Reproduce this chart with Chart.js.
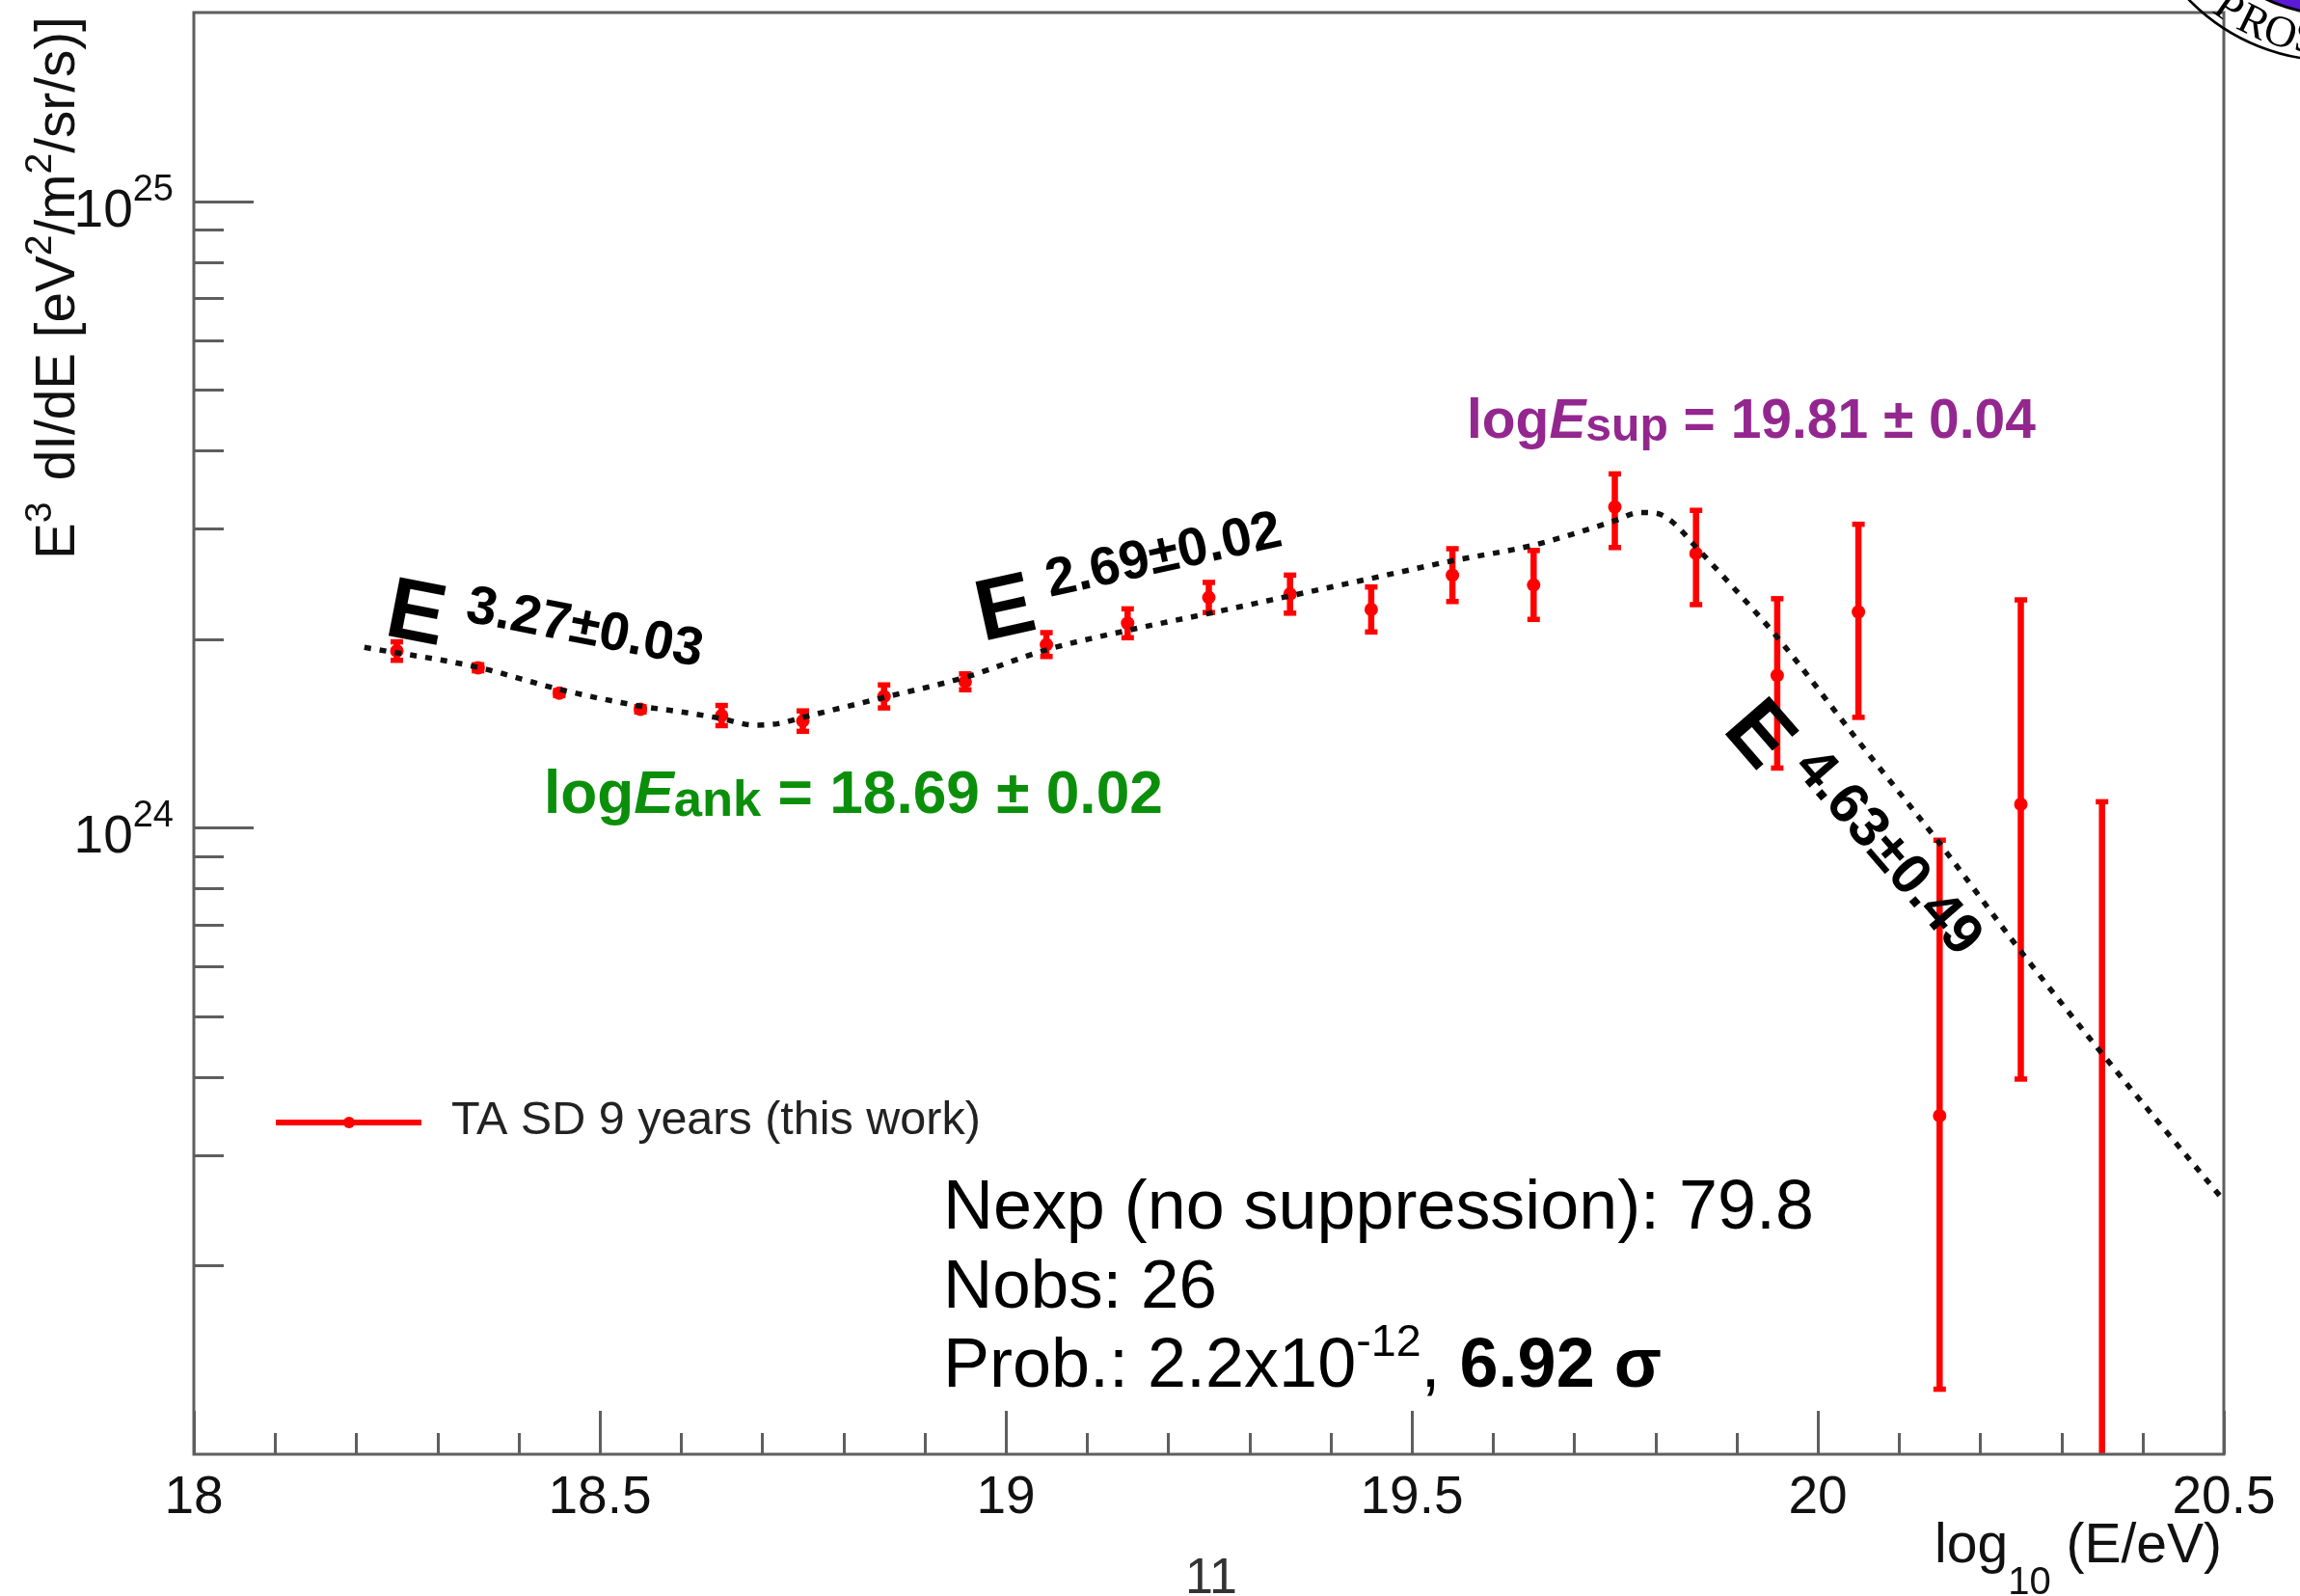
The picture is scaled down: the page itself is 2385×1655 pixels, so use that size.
<!DOCTYPE html>
<html><head><meta charset="utf-8">
<script src="https://cdn.jsdelivr.net/npm/chart.js@4.4.1/dist/chart.umd.min.js"></script>
<style>html,body{margin:0;padding:0;background:#fff;}canvas{display:block;}</style>
</head><body>
<canvas id="c" width="2385" height="1655" style="width:2385px;height:1655px"></canvas>
<script>
// ---------------- data ----------------
const logE = [18.25,18.35,18.45,18.55,18.65,18.75,18.85,18.95,19.05,19.15,19.25,19.35,19.45,19.55,19.65,19.75,19.85,19.95,20.05,20.15,20.25,20.35];
const flux = [1.915e24,1.80e24,1.64e24,1.545e24,1.51e24,1.48e24,1.62e24,1.71e24,1.96e24,2.12e24,2.33e24,2.36e24,2.23e24,2.53e24,2.44e24,3.25e24,2.74e24,1.75e24,2.21e24,3.47e23,1.09e24,null];
const fluxLow = [1.85e24,1.78e24,1.625e24,1.53e24,1.455e24,1.425e24,1.553e24,1.66e24,1.876e24,2.01e24,2.205e24,2.20e24,2.053e24,2.296e24,2.15e24,2.80e24,2.27e24,1.245e24,1.50e24,1.27e23,3.97e23,1.0e23];
const fluxHigh = [1.98e24,1.82e24,1.655e24,1.56e24,1.567e24,1.536e24,1.69e24,1.76e24,2.048e24,2.235e24,2.463e24,2.53e24,2.422e24,2.788e24,2.77e24,3.67e24,3.21e24,2.32e24,3.05e24,9.55e23,2.31e24,1.10e24];
const fitLogE = [18.21,18.35,18.45,18.55,18.6,18.65,18.69,18.72,18.75,18.85,18.95,19.05,19.15,19.25,19.35,19.45,19.55,19.65,19.75,19.78,19.80,19.82,19.85,19.89,19.95,20.05,20.15,20.25,20.35,20.5];
const fitFlux = [1.94e24,1.803e24,1.663e24,1.563e24,1.531e24,1.493e24,1.458e24,1.466e24,1.500e24,1.614e24,1.738e24,1.923e24,2.065e24,2.198e24,2.344e24,2.500e24,2.667e24,2.825e24,3.090e24,3.184e24,3.177e24,3.083e24,2.805e24,2.466e24,2.014e24,1.374e24,9.44e23,6.35e23,4.36e23,2.54e23];
const xTicks = [18,18.5,19,19.5,20,20.5];
const xTickLabels = ['18','18.5','19','19.5','20','20.5'];
const yTickValues = [1e24,1e25];
const yTickExp = ['24','25'];
const seriesLabel = 'TA SD 9 years (this work)';

// ---------------- styling ----------------
const FONT = "'Liberation Sans', Arial, Helvetica, sans-serif";
const RED = '#ff0000';
const AXIS = '#5e5e5e';

function font(p, s) {
  return (p.style || 'normal') + ' ' + (p.weight || 'normal') + ' ' + (p.size * s) + 'px ' + (p.family || FONT);
}
function richWidth(ctx, parts, s) {
  let w = 0;
  for (const p of parts) { ctx.font = font(p, s); w += ctx.measureText(p.t).width + (p.gap || 0) * s; }
  return w;
}
function drawRich(ctx, x, y, parts, s, color) {
  let cx = x;
  ctx.textBaseline = 'alphabetic';
  ctx.textAlign = 'left';
  for (const p of parts) {
    ctx.font = font(p, s);
    ctx.fillStyle = p.color || color;
    ctx.fillText(p.t, cx, y + (p.dy || 0) * s);
    cx += ctx.measureText(p.t).width + (p.gap || 0) * s;
  }
  return cx - x;
}
function fitScale(ctx, parts, target) { return target / richWidth(ctx, parts, 1); }

function drawAnno(ctx, x, y, deg, eSize, sup, supSize, supX, supY) {
  ctx.save();
  ctx.translate(x, y);
  ctx.rotate(deg * Math.PI / 180);
  ctx.fillStyle = '#000';
  ctx.textBaseline = 'alphabetic';
  ctx.textAlign = 'left';
  ctx.font = 'bold ' + eSize + 'px ' + FONT;
  ctx.fillText('E', 0, 0);
  ctx.font = 'bold ' + supSize + 'px ' + FONT;
  ctx.fillText(sup, supX, supY);
  ctx.restore();
}

const decor = {
  id: 'decor',
  afterDraw(chart) {
    const ctx = chart.ctx, a = chart.chartArea, xs = chart.scales.x, ys = chart.scales.y;
    ctx.save();
    // ticks (inside the frame)
    ctx.strokeStyle = AXIS; ctx.lineWidth = 3; ctx.lineCap = 'butt';
    for (let i = 0; i <= 25; i++) {
      const v = 18 + i * 0.1;
      const px = Math.round(xs.getPixelForValue(v)) + 0.5;
      const len = (i % 5 === 0) ? 45 : 22;
      ctx.beginPath(); ctx.moveTo(px, a.bottom); ctx.lineTo(px, a.bottom - len); ctx.stroke();
    }
    for (let d = 23; d <= 25; d++) {
      for (let m = 1; m <= 9; m++) {
        const v = m * Math.pow(10, d);
        if (v <= ys.min * 1.0001 || v >= ys.max * 0.9999) continue;
        const py = Math.round(ys.getPixelForValue(v)) + 0.5;
        const len = (m === 1) ? 62 : 31;
        ctx.beginPath(); ctx.moveTo(a.left, py); ctx.lineTo(a.left + len, py); ctx.stroke();
      }
    }
    // frame
    ctx.strokeStyle = AXIS; ctx.lineWidth = 3;
    ctx.strokeRect(a.left, a.top, a.right - a.left, a.bottom - a.top);

    // y tick labels 10^n
    for (let i = 0; i < yTickValues.length; i++) {
      const py = ys.getPixelForValue(yTickValues[i]);
      const parts = [{t: '10', size: 55}, {t: yTickExp[i], size: 38, dy: -27}];
      const w = richWidth(ctx, parts, 1);
      drawRich(ctx, 180 - w, py + 26, parts, 1, '#111');
    }

    // y axis title (rotated)
    {
      const parts = [{t: 'E', size: 52}, {t: '3', size: 36, dy: -22, gap: 6}, {t: ' dI/dE [eV', size: 52},
        {t: '2', size: 36, dy: -22}, {t: '/m', size: 52}, {t: '2', size: 36, dy: -22}, {t: '/sr/s)]', size: 52}];
      const s = fitScale(ctx, parts, 563);
      ctx.save(); ctx.translate(77, 580); ctx.rotate(-Math.PI / 2);
      drawRich(ctx, 0, 0, parts, s, '#111');
      ctx.restore();
    }
    // x axis title
    {
      const parts = [{t: 'log', size: 57}, {t: '10', size: 40, dy: 33}, {t: ' (E/eV)', size: 57}];
      const w = richWidth(ctx, parts, 1);
      drawRich(ctx, 2304 - w, 1620, parts, 1, '#111');
    }
    // page number
    ctx.font = '52px ' + FONT; ctx.fillStyle = '#333'; ctx.textAlign = 'left'; ctx.textBaseline = 'alphabetic';
    ctx.fillText('11', 1229, 1652);

    // legend
    ctx.strokeStyle = RED; ctx.lineWidth = 6;
    ctx.beginPath(); ctx.moveTo(286, 1164); ctx.lineTo(437, 1164); ctx.stroke();
    ctx.fillStyle = RED; ctx.beginPath(); ctx.arc(362, 1164, 6, 0, 2 * Math.PI); ctx.fill();
    {
      const parts = [{t: seriesLabel, size: 48}];
      drawRich(ctx, 468, 1176, parts, fitScale(ctx, parts, 549), '#222');
    }

    // green / purple annotations
    {
      const g = [{t: 'log', size: 64, weight: 'bold'}, {t: 'E', size: 64, weight: 'bold', style: 'italic'},
        {t: 'ank', size: 54, weight: 'bold', dy: 3}, {t: ' = 18.69 \u00b1 0.02', size: 64, weight: 'bold'}];
      drawRich(ctx, 564, 843, g, fitScale(ctx, g, 642), '#0b8f0b');
      const p = [{t: 'log', size: 64, weight: 'bold'}, {t: 'E', size: 64, weight: 'bold', style: 'italic'},
        {t: 'sup', size: 54, weight: 'bold', dy: 3}, {t: ' = 19.81 \u00b1 0.04', size: 64, weight: 'bold'}];
      drawRich(ctx, 1521, 454, p, fitScale(ctx, p, 590), '#93278f');
    }

    // spectral index labels
    drawAnno(ctx, 397, 658, 11, 90, '3.27\u00b10.03', 56, 80, -30);
    drawAnno(ctx, 1019, 665, -12.4, 90, '2.69\u00b10.02', 56, 78, -30);
    drawAnno(ctx, 1785, 757, 49, 88, '4.63\u00b10.49', 59, 78, -30);

    // statistics text block
    {
      const l1 = [{t: 'Nexp (no suppression): 79.8', size: 71}];
      drawRich(ctx, 978, 1274, l1, fitScale(ctx, l1, 903), '#000');
      const l2 = [{t: 'Nobs: 26', size: 71}];
      drawRich(ctx, 978, 1356, l2, fitScale(ctx, l2, 284), '#000');
      const l3 = [{t: 'Prob.: 2.2x10', size: 71}, {t: '-12', size: 46, dy: -32}, {t: ', ', size: 71},
        {t: '6.92 \u03c3', size: 71, weight: 'bold'}];
      drawRich(ctx, 978, 1438, l3, fitScale(ctx, l3, 745), '#000');
    }

    // corner logo fragment
    ctx.beginPath(); ctx.arc(2420, -147, 162, 0, 2 * Math.PI);
    ctx.fillStyle = '#5b1bd6'; ctx.fill(); ctx.lineWidth = 3; ctx.strokeStyle = '#000'; ctx.stroke();
    ctx.beginPath(); ctx.arc(2420, -147, 210, 0, 2 * Math.PI); ctx.lineWidth = 2.5; ctx.stroke();
    const letters = ['P', 'R', 'O', 'S'], angs = [125, 116, 107, 98.5];
    ctx.fillStyle = '#000'; ctx.font = '46px "Liberation Serif", "DejaVu Serif", serif';
    ctx.textAlign = 'center'; ctx.textBaseline = 'alphabetic';
    for (let i = 0; i < letters.length; i++) {
      const al = angs[i] * Math.PI / 180;
      ctx.save();
      ctx.translate(2420 + 203 * Math.cos(al), -147 + 203 * Math.sin(al));
      ctx.rotate(al - Math.PI / 2);
      ctx.fillText(letters[i], 0, 0);
      ctx.restore();
    }
    ctx.restore();
  }
};

// ---------------- datasets ----------------
const fitData = fitLogE.map((x, i) => ({x: x, y: fitFlux[i]}));
const markerData = [];
const errData = [];
const capData = [];
logE.forEach((x, i) => {
  if (flux[i] !== null) markerData.push({x: x, y: flux[i]});
  errData.push({x: x, y: fluxLow[i]}, {x: x, y: fluxHigh[i]}, {x: x, y: null});
  if (fluxLow[i] > 1e23) capData.push({x: x, y: fluxLow[i]});
  capData.push({x: x, y: fluxHigh[i]});
});

new Chart(document.getElementById('c'), {
  type: 'scatter',
  data: {
    datasets: [
      {type: 'line', label: 'fit', data: fitData, borderColor: '#111', borderWidth: 5.5, borderDash: [7, 9],
        pointRadius: 0, cubicInterpolationMode: 'monotone', fill: false},
      {label: seriesLabel, data: markerData, pointRadius: 7, pointBackgroundColor: RED, pointBorderWidth: 0, borderColor: RED},
      {label: 'caps', data: capData, pointStyle: 'line', pointRadius: 6.5, pointBorderWidth: 5.5, pointBorderColor: RED, borderColor: RED},
      {type: 'line', label: 'errors', data: errData, borderColor: RED, borderWidth: 6.5, pointRadius: 0, spanGaps: false, fill: false}
    ]
  },
  options: {
    responsive: false, animation: false, devicePixelRatio: 1,
    layout: {padding: {top: 13, right: 79, left: 0, bottom: 0}},
    plugins: {legend: {display: false}, tooltip: {enabled: false}},
    scales: {
      x: {type: 'linear', min: 18, max: 20.5, position: 'bottom',
        grid: {display: false, drawTicks: false}, border: {display: false},
        afterBuildTicks: s => { s.ticks = xTicks.map(v => ({value: v})); },
        ticks: {padding: 13, color: '#111', font: {family: FONT, size: 55}, maxRotation: 0,
          callback: v => xTickLabels[xTicks.indexOf(v)]},
        afterFit: s => { s.height = 147; }},
      y: {type: 'logarithmic', min: 1e23, max: 2e25, position: 'left',
        grid: {display: false, drawTicks: false}, border: {display: false},
        ticks: {display: false},
        afterFit: s => { s.width = 201; }}
    }
  },
  plugins: [decor]
});
</script>
</body></html>
